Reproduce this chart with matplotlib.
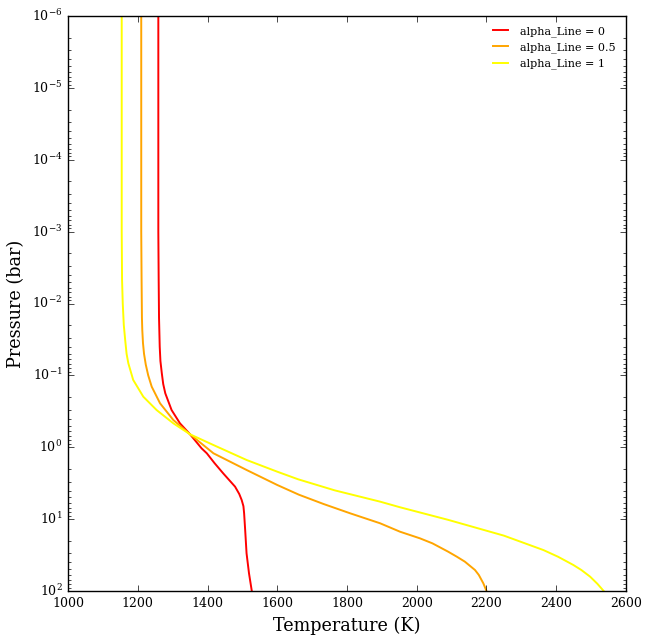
import numpy as np
import matplotlib
matplotlib.use("Agg")
import matplotlib.pyplot as plt

# values (log10 pressure in bar, temperature in K)
logp_a0 = [-6.0, -3.0, -2.327, -1.8, -1.399, -1.2, -1.029, -0.88, -0.75, -0.518, -0.333, -0.18, 0.015,
           0.084, 0.22, 0.363, 0.548, 0.65, 0.734, 0.82, 0.919, 1.151, 1.476, 1.754, 2.0]
temp_a0 = [1259, 1259, 1260, 1261, 1263, 1265, 1269, 1273, 1279, 1297, 1321, 1350, 1383,
           1398, 1420, 1445, 1479, 1491, 1498, 1503, 1505, 1508, 1512, 1519, 1527]

logp_a05 = [-6.0, -3.0, -2.327, -1.8, -1.631, -1.45, -1.3, -1.15, -1.0, -0.843, -0.611, -0.379, -0.18,
            0.084, 0.316, 0.525, 0.66, 0.79, 0.919, 1.058, 1.175, 1.267, 1.337, 1.453, 1.523,
            1.592, 1.708, 1.777, 1.894, 2.0]
temp_a05 = [1210, 1210, 1211, 1212, 1213, 1215, 1218, 1223, 1230, 1240, 1264, 1302, 1350,
            1417, 1512, 1600, 1662, 1733, 1809, 1895, 1952, 2009, 2045, 2090, 2115,
            2138, 2167, 2178, 2191, 2200]

logp_a1 = [-6.0, -3.0, -2.327, -2.0, -1.7, -1.49, -1.3, -1.168, -0.936, -0.703, -0.518, -0.333, -0.18,
           -0.031, 0.177, 0.34, 0.446, 0.6, 0.757, 0.835, 1.01, 1.23, 1.43, 1.523, 1.638,
           1.708, 1.8, 1.9, 2.0]
temp_a1 = [1154, 1154, 1155, 1157, 1160, 1164, 1168, 1173, 1187, 1216, 1254, 1302, 1350,
           1417, 1512, 1600, 1660, 1765, 1895, 1952, 2090, 2250, 2363, 2405, 2449,
           2472, 2497, 2518, 2536]

labels = ["alpha_Line = 0", "alpha_Line = 0.5", "alpha_Line = 1"]
colors = ["red", "orange", "yellow"]

plt.style.use("classic")
plt.rcParams["font.family"] = "serif"
plt.rcParams["font.serif"] = ["DejaVu Serif"]
plt.rcParams["mathtext.fontset"] = "dejavuserif"

dpi = 100
fig = plt.figure(figsize=(651 / dpi, 641 / dpi), dpi=dpi, facecolor="white")
ax = fig.add_axes([68 / 651, 1 - 591 / 641, 558 / 651, 575 / 641])

curves = [(logp_a0, temp_a0), (logp_a05, temp_a05), (logp_a1, temp_a1)]
for (lp, t), lab, c in zip(curves, labels, colors):
    ax.plot(t, 10 ** np.array(lp), color=c, lw=1.4, label=lab)

ax.set_yscale("log")
ax.set_ylim(1e2, 1e-6)
ax.set_xlim(1000, 2600)
ax.set_xlabel("Temperature (K)", fontsize=12.7)
ax.set_ylabel("Pressure (bar)", fontsize=12.7)
ax.tick_params(labelsize=9)
ax.legend(loc="upper right", frameon=False, fontsize=8)

fig.savefig("out.png", dpi=dpi, facecolor="white")
